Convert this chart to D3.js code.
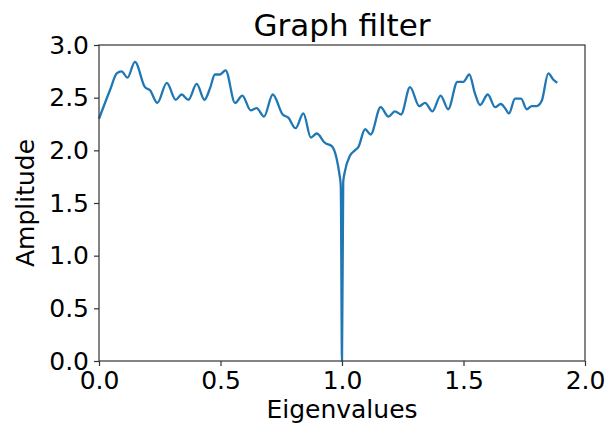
<!DOCTYPE html>
<html>
<head>
<meta charset="utf-8">
<script src="https://cdn.jsdelivr.net/npm/d3@7"></script>
<style>
  html, body { margin: 0; padding: 0; background: #fff; }
  text { font-family: "DejaVu Sans", sans-serif; fill: #000; }
</style>
</head>
<body>
<svg id="chart" width="608" height="428"></svg>
<script>
const eigenvalues = [0.000, 0.045, 0.073, 0.093, 0.117, 0.148, 0.189, 0.210, 0.240, 0.279, 0.316, 0.340, 0.368, 0.402, 0.434, 0.457, 0.477, 0.498, 0.521, 0.560, 0.590, 0.624, 0.649, 0.679, 0.715, 0.756, 0.779, 0.809, 0.841, 0.872, 0.896, 0.930, 0.958, 0.978, 0.989, 0.995, 1.000, 1.005, 1.012, 1.033, 1.053, 1.067, 1.095, 1.118, 1.159, 1.191, 1.218, 1.243, 1.280, 1.318, 1.342, 1.372, 1.406, 1.437, 1.475, 1.499, 1.524, 1.547, 1.568, 1.600, 1.630, 1.653, 1.671, 1.687, 1.712, 1.737, 1.760, 1.781, 1.801, 1.822, 1.849, 1.870, 1.886];
const amplitude = [2.30, 2.57, 2.73, 2.75, 2.69, 2.84, 2.60, 2.57, 2.45, 2.64, 2.48, 2.53, 2.48, 2.63, 2.48, 2.59, 2.72, 2.72, 2.76, 2.45, 2.52, 2.38, 2.40, 2.32, 2.53, 2.34, 2.31, 2.21, 2.35, 2.12, 2.16, 2.07, 2.04, 1.92, 1.78, 1.66, 0.00, 1.70, 1.80, 1.95, 2.00, 2.03, 2.20, 2.15, 2.41, 2.32, 2.37, 2.34, 2.60, 2.42, 2.45, 2.37, 2.52, 2.39, 2.65, 2.65, 2.72, 2.54, 2.43, 2.53, 2.41, 2.44, 2.40, 2.35, 2.49, 2.49, 2.39, 2.42, 2.42, 2.47, 2.73, 2.67, 2.64];
const xTicks = [0.0, 0.5, 1.0, 1.5, 2.0];
const yTicks = [0.0, 0.5, 1.0, 1.5, 2.0, 2.5, 3.0];
const title = "Graph filter";
const xLabel = "Eigenvalues";
const yLabel = "Amplitude";

const svg = d3.select("#chart");
const L = 99, R = 585, T = 45, B = 361;
const x = d3.scaleLinear().domain([0, 2]).range([L, R]);
const y = d3.scaleLinear().domain([0, 3]).range([B, T]);

const data = eigenvalues.map((e, i) => ({ x: e, y: amplitude[i] }));

svg.append("path")
  .datum(data)
  .attr("fill", "none")
  .attr("stroke", "#1f77b4")
  .attr("stroke-width", 2.3)
  .attr("stroke-linejoin", "round")
  .attr("d", d3.line().x(d => x(d.x)).y(d => y(d.y)).curve(d3.curveMonotoneX));

const xAxis = svg.append("g").attr("transform", `translate(0,${B})`)
  .call(d3.axisBottom(x).tickValues(xTicks).tickFormat(d3.format(".1f")).tickSize(5).tickPadding(5));
const yAxis = svg.append("g").attr("transform", `translate(${L},0)`)
  .call(d3.axisLeft(y).tickValues(yTicks).tickFormat(d3.format(".1f")).tickSize(5).tickPadding(5));
[xAxis, yAxis].forEach(g => {
  g.select(".domain").remove();
  g.selectAll("line").attr("stroke", "#333").attr("stroke-width", 1.2);
  g.selectAll("text").attr("font-family", "DejaVu Sans").attr("font-size", 25).attr("fill", "#000");
});

svg.append("rect")
  .attr("x", L).attr("y", T).attr("width", R - L).attr("height", B - T)
  .attr("fill", "none").attr("stroke", "#333").attr("stroke-width", 1.2);

svg.append("text").attr("x", (L + R) / 2).attr("y", 36)
  .attr("text-anchor", "middle").attr("font-size", 31).text(title);
svg.append("text").attr("x", (L + R) / 2).attr("y", 418)
  .attr("text-anchor", "middle").attr("font-size", 25).text(xLabel);
svg.append("text").attr("transform", `translate(34,${(T + B) / 2}) rotate(-90)`)
  .attr("text-anchor", "middle").attr("font-size", 25).text(yLabel);
</script>
</body>
</html>
